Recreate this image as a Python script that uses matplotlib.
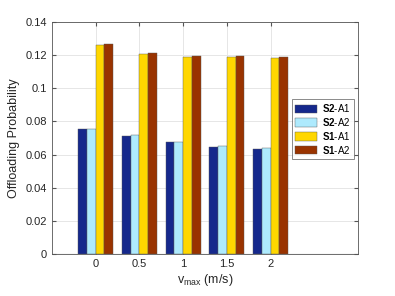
import numpy as np
import matplotlib.pyplot as plt

plt.rcParams['font.family'] = ['Liberation Sans', 'DejaVu Sans']
plt.rcParams['mathtext.fontset'] = 'custom'
plt.rcParams['mathtext.rm'] = 'Liberation Sans'
plt.rcParams['mathtext.it'] = 'Liberation Sans:italic'
plt.rcParams['mathtext.bf'] = 'Liberation Sans:bold'

# data
vmax_labels = ['0', '0.5', '1', '1.5', '2']
series_names = [r'$\mathbf{S2}$-A1', r'$\mathbf{S2}$-A2',
                r'$\mathbf{S1}$-A1', r'$\mathbf{S1}$-A2']
s2_a1 = [0.0752, 0.0714, 0.0676, 0.0648, 0.0636]
s2_a2 = [0.0756, 0.0716, 0.0678, 0.0650, 0.0638]
s1_a1 = [0.1264, 0.1208, 0.1186, 0.1186, 0.1182]
s1_a2 = [0.1268, 0.1214, 0.1192, 0.1192, 0.1186]
colors = ['#15288c', '#aeeafd', '#ffd700', '#993300']


def main():
    fig = plt.figure(figsize=(3.95, 2.96), dpi=100)
    ax = fig.add_axes([52 / 395, 42 / 296, 306 / 395, 232 / 296])

    x = np.arange(1, len(vmax_labels) + 1)
    w = 0.2
    all_series = [s2_a1, s2_a2, s1_a1, s1_a2]
    for i, vals in enumerate(all_series):
        ax.bar(x + (i - 1.5) * w, vals, width=w, color=colors[i],
               edgecolor='#555555', linewidth=0.3, label=series_names[i],
               zorder=3)

    ax.axhline(0, color='#888888', linewidth=0.8, zorder=2)
    ax.set_xlim(0, 7)
    ax.set_ylim(0, 0.14)
    ax.set_xticks(x)
    ax.set_xticklabels(vmax_labels)
    ax.set_yticks(np.arange(0, 0.141, 0.02))
    ax.set_yticklabels(['0', '0.02', '0.04', '0.06', '0.08', '0.1',
                        '0.12', '0.14'])
    ax.grid(True, color='#e6e6e6', linewidth=0.7, zorder=0)
    ax.tick_params(labelsize=8, length=3, direction='in', color='#555555',
                   top=True, right=True, labelcolor='#262626')
    for s in ax.spines.values():
        s.set_color('#555555')
        s.set_linewidth(0.6)

    ax.set_xlabel(r'v$_{\mathrm{max}}$ (m/s)', fontsize=9, color='#262626',
                  labelpad=2)
    ax.set_ylabel('Offloading Probability', fontsize=9, color='#262626')

    leg = ax.legend(loc='upper left', bbox_to_anchor=(0.784, 0.668),
                    borderaxespad=0, fontsize=7, frameon=True,
                    fancybox=False, handlelength=2.3, handleheight=0.9,
                    borderpad=0.3, labelspacing=0.2, handletextpad=0.5)
    leg.get_frame().set_edgecolor('#555555')
    leg.get_frame().set_linewidth(0.6)

    fig.savefig('out.png', dpi=100)


if __name__ == '__main__':
    main()
